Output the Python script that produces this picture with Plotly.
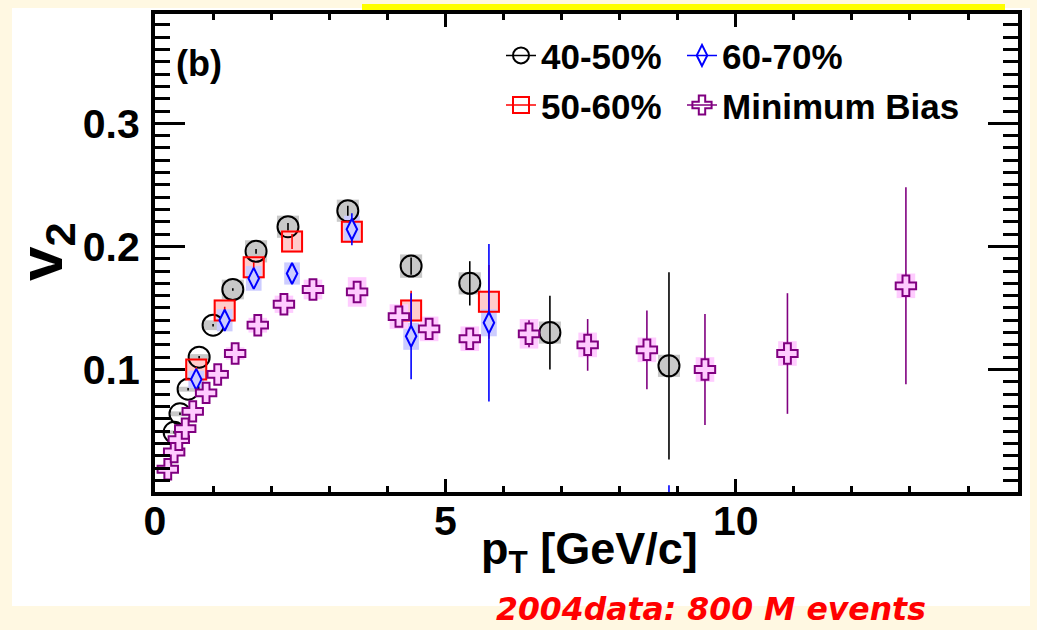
import numpy as np
import plotly.graph_objects as go

# ---------------- data: elliptic flow v2 vs pT ----------------
pt_4050 = [0.33, 0.43, 0.57, 0.76, 1.00, 1.34, 1.74, 2.29, 3.32, 4.41, 5.42, 6.80, 8.85]
v2_4050 = [0.049, 0.064, 0.084, 0.110, 0.136, 0.165, 0.196, 0.216, 0.229, 0.184, 0.170, 0.130, 0.103]
stat_4050 = [0.001, 0.001, 0.001, 0.001, 0.001, 0.001, 0.002, 0.003, 0.004, 0.007, 0.018, 0.030, 0.076]
sys_4050 = [0.0015, 0.002, 0.002, 0.0025, 0.004, 0.008, 0.009, 0.009, 0.009, 0.0095, 0.009, 0.009, 0.009]

pt_5060 = [0.71, 1.20, 1.70, 2.36, 3.39, 4.41, 5.75]
v2_5060 = [0.100, 0.148, 0.183, 0.204, 0.212, 0.148, 0.155]
stat_5060 = [0.002, 0.003, 0.004, 0.006, 0.008, 0.016, 0.030]
sys_5060 = [0.008, 0.009, 0.009, 0.009, 0.009, 0.009, 0.009]

pt_6070 = [0.71, 1.20, 1.70, 2.36, 3.39, 4.41, 5.75, 8.85]
v2_6070 = [0.092, 0.140, 0.174, 0.178, 0.214, 0.127, 0.138, -0.060]
stat_6070 = [0.002, 0.004, 0.005, 0.006, 0.013, 0.035, 0.064, 0.066]
sys_6070 = [0.007, 0.009, 0.010, 0.009, 0.011, 0.011, 0.011, 0.011]

pt_mb = [0.22, 0.33, 0.41, 0.52, 0.65, 0.88, 1.08, 1.38, 1.77, 2.22, 2.72, 3.48,
         4.20, 4.72, 5.42, 6.44, 7.45, 8.47, 9.47, 10.89, 12.93]
v2_mb = [0.019, 0.033, 0.043, 0.052, 0.066, 0.081, 0.096, 0.113, 0.136, 0.153, 0.165, 0.163,
         0.143, 0.133, 0.125, 0.129, 0.120, 0.116, 0.100, 0.113, 0.168]
stat_mb = [0.001, 0.001, 0.001, 0.001, 0.001, 0.001, 0.001, 0.001, 0.002, 0.002, 0.003, 0.004,
           0.005, 0.006, 0.008, 0.011, 0.021, 0.032, 0.045, 0.049, 0.080]
sys_mb = [0.001, 0.0015, 0.002, 0.002, 0.003, 0.003, 0.004, 0.005, 0.006, 0.007, 0.008, 0.012,
          0.010, 0.010, 0.010, 0.012, 0.010, 0.010, 0.010, 0.010, 0.010]

labels = ["40-50%", "50-60%", "60-70%", "Minimum Bias"]

# ---------------- page geometry (pixels) ----------------
W, H = 1037, 630
L, R, T, B = 155, 1018, 10, 492


def px_x(p):
    return (p - L) / (R - L)


def px_y(p):
    return (B - p) / (B - T)


FONT = "Liberation Sans, Arial, sans-serif"

series = [
    dict(name=labels[0], x=pt_4050, y=v2_4050, err=stat_4050, sys=sys_4050,
         symbol="circle", size=21, line="#000000", fill="rgba(0,0,0,0)",
         box="rgb(200,200,200)", boxw=0.38, legend="legend"),
    dict(name=labels[1], x=pt_5060, y=v2_5060, err=stat_5060, sys=sys_5060,
         symbol="square", size=20, line="#ff0000", fill="rgba(0,0,0,0)",
         box="rgb(255,204,204)", boxw=0.38, legend="legend2"),
    dict(name=labels[2], x=pt_6070, y=v2_6070, err=stat_6070, sys=sys_6070,
         symbol="diamond-tall", size=15, line="#0000ff", fill="rgb(204,204,255)",
         box="rgb(204,204,255)", boxw=0.27, legend="legend3"),
    dict(name=labels[3], x=pt_mb, y=v2_mb, err=stat_mb, sys=sys_mb,
         symbol="cross", size=17, line="#800080", fill="rgb(255,204,255)",
         box="rgb(255,204,255)", boxw=0.32, legend="legend4"),
]

fig = go.Figure()

# systematic-uncertainty boxes
for s in series:
    y = np.array(s["y"])
    sy = np.array(s["sys"])
    fig.add_trace(go.Bar(
        x=s["x"], y=2 * sy, base=y - sy, width=s["boxw"],
        marker=dict(color=s["box"], line=dict(width=0)),
        showlegend=False, hoverinfo="skip",
    ))

# points with statistical error bars
for s in series:
    fig.add_trace(go.Scatter(
        x=s["x"], y=s["y"], mode="markers",
        marker=dict(symbol=s["symbol"], size=s["size"], color=s["fill"],
                    line=dict(color=s["line"], width=2)),
        error_y=dict(type="data", array=s["err"], color=s["line"],
                     thickness=1.6, width=0),
        showlegend=False, name=s["name"],
    ))

# legend keys (one legend box per entry, arranged 2 x 2)
for s in series:
    fig.add_trace(go.Scatter(
        x=[None], y=[None], mode="lines+markers", name=s["name"],
        legend=s["legend"],
        line=dict(color=s["line"], width=1.5),
        marker=dict(symbol=s["symbol"], size=s["size"], color="rgba(0,0,0,0)",
                    line=dict(color=s["line"], width=2)),
    ))

legend_common = dict(
    orientation="h", xanchor="left", yanchor="middle",
    bgcolor="rgba(0,0,0,0)", borderwidth=0,
    font=dict(family=FONT, size=35, color="black", weight="bold"),
    itemsizing="trace",
)
col1, col2 = 501, 682
row1, row2 = 52, 102

fig.update_layout(
    width=W, height=H, autosize=False,
    margin=dict(l=L, r=W - R, t=T, b=H - B, pad=0),
    paper_bgcolor="#fff8e2", plot_bgcolor="white",
    barmode="overlay",
    legend=dict(x=px_x(col1), y=px_y(row1), **legend_common),
    legend2=dict(x=px_x(col1), y=px_y(row2), **legend_common),
    legend3=dict(x=px_x(col2), y=px_y(row1), **legend_common),
    legend4=dict(x=px_x(col2), y=px_y(row2), **legend_common),
    xaxis=dict(
        range=[0, 14.86], tickmode="linear", tick0=0, dtick=5,
        ticks="inside", ticklen=13, tickwidth=3, tickcolor="black",
        minor=dict(dtick=1, ticklen=6, tickwidth=2.5, tickcolor="black", ticks="inside"),
        showline=True, linewidth=4, linecolor="black", mirror="ticks",
        showgrid=False, zeroline=False,
        tickfont=dict(family=FONT, size=41, color="black", weight="bold"),
        ticklabelstandoff=-10,
    ),
    yaxis=dict(
        range=[0.0005, 0.3888], tickmode="linear", tick0=0, dtick=0.1,
        tickformat=".1f",
        ticks="inside", ticklen=30, tickwidth=3, tickcolor="black",
        minor=dict(dtick=0.01, ticklen=15, tickwidth=2.5, tickcolor="black", ticks="inside"),
        showline=True, linewidth=4, linecolor="black", mirror="ticks",
        showgrid=False, zeroline=False,
        tickfont=dict(family=FONT, size=41, color="black", weight="bold"),
        ticklabelstandoff=3,
    ),
    shapes=[
        dict(type="rect", xref="paper", yref="paper", layer="below",
             x0=px_x(12), x1=px_x(1030), y0=px_y(4), y1=px_y(607),
             fillcolor="white", line=dict(width=0)),
        dict(type="rect", xref="paper", yref="paper", layer="above",
             x0=px_x(362), x1=px_x(1005), y0=px_y(0), y1=px_y(6),
             fillcolor="#ffff00", line=dict(width=0)),
    ],
    annotations=[
        dict(text="(b)", x=px_x(199), y=px_y(60), xref="paper", yref="paper",
             showarrow=False, xanchor="center", yanchor="middle",
             font=dict(family=FONT, size=36, color="black", weight="bold")),
        dict(text="v<sub>2</sub>", x=px_x(45), y=px_y(250), xref="paper", yref="paper",
             showarrow=False, xanchor="center", yanchor="middle", textangle=-90,
             font=dict(family=FONT, size=62, color="black", weight="bold")),
        dict(text="p<sub>T</sub> [GeV/c]", x=px_x(589), y=px_y(552), xref="paper", yref="paper",
             showarrow=False, xanchor="center", yanchor="middle",
             font=dict(family=FONT, size=45, color="black", weight="bold")),
        dict(text="2004data: 800 M events", x=px_x(711), y=px_y(630), xref="paper", yref="paper",
             showarrow=False, xanchor="center", yanchor="bottom",
             font=dict(family="DejaVu Sans, sans-serif", size=31.5, color="#ff0000",
                       weight="bold", style="italic")),
    ],
)

fig.write_html("out.html")
